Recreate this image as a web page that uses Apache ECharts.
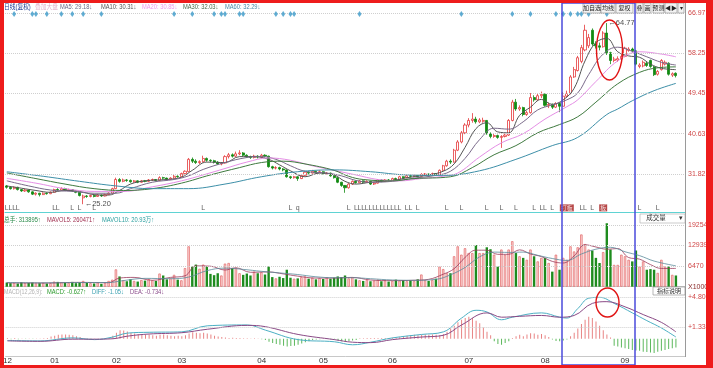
<!DOCTYPE html>
<html><head><meta charset="utf-8">
<script src="https://cdn.jsdelivr.net/npm/echarts/dist/echarts.min.js"></script>
<style>html,body{margin:0;padding:0;background:#fff}#c{width:713px;height:368px}</style>
</head><body><div id="c"></div>
<script>
const N_CATS = 187;
const monthLabels = ['12','01','02','03','04','05','06','07','08','09'];
const monthStartIdx = [0,13,30,48,70,87,106,127,148,170];
const priceTicks = [66.97, 58.25, 49.45, 40.63, 31.82];
const volTicks = [19254, 12939, 6470];
const macdTicks = [4.80, 1.33];

// [open, close, low, high]
const candles = [
[29.2,28.9,28.6,29.4],[28.9,28.6,28.4,29.0],[28.6,28.9,28.4,29.1],[28.9,28.4,28.2,29.0],[28.4,28.1,27.9,28.5],[28.1,28.3,27.9,28.5],[28.3,27.9,27.7,28.4],[27.9,27.4,27.2,28.0],[27.4,27.6,27.1,27.8],[27.6,27.3,26.9,27.7],
[27.3,27.6,27.2,27.8],[27.6,27.5,27.3,27.8],[27.5,27.8,27.4,28.0],[27.8,28.4,27.7,28.6],[28.4,28.3,28.1,28.7],[28.3,28.6,28.2,28.9],[28.6,28.3,28.2,28.8],[28.3,28.4,28.1,28.6],[28.4,28.1,27.9,28.5],[28.1,27.8,27.6,28.2],
[27.8,27.1,26.9,27.9],[26.6,27.0,25.2,27.3],[27.0,26.9,26.6,27.2],[26.9,27.1,26.7,27.3],[27.1,26.9,26.7,27.2],[26.9,27.2,26.8,27.4],[27.2,27.0,26.8,27.3],[27.0,27.3,26.9,27.5],[27.3,27.6,27.2,27.8],[27.6,28.6,27.5,28.8],
[28.6,30.6,28.5,31.0],[30.6,30.2,29.9,30.9],[30.2,30.5,30.0,30.8],[30.5,30.4,30.1,30.7],[30.4,30.1,29.9,30.6],[30.1,30.3,29.9,30.5],[30.3,30.0,29.8,30.4],[30.0,30.3,29.9,30.5],[30.3,30.2,30.0,30.5],[30.2,30.5,30.1,30.7],
[30.5,30.6,30.3,30.8],[30.6,30.4,30.2,30.7],[30.4,31.0,30.3,31.3],[31.0,30.9,30.6,31.2],[30.9,30.7,30.5,31.0],[30.7,30.9,30.6,31.1],[30.9,31.3,30.8,31.6],[31.3,31.2,31.0,31.5],[31.2,31.9,31.1,32.1],[31.9,32.4,31.7,32.6],
[32.3,35.0,32.2,35.3],[35.0,34.6,34.2,35.4],[34.6,34.3,34.0,35.0],[34.3,34.5,34.0,34.8],[34.5,35.2,34.3,35.8],[35.2,34.8,34.5,35.4],[34.8,34.7,34.4,35.0],[34.7,34.4,34.1,34.9],[34.4,34.0,33.8,34.6],[34.0,34.2,33.7,34.4],
[34.2,35.6,34.1,35.9],[35.6,36.0,35.2,36.4],[36.0,35.7,35.4,36.3],[35.7,36.2,35.5,36.7],[36.2,36.4,35.9,37.0],[36.4,35.9,35.6,36.6],[35.9,35.6,35.3,36.1],[35.6,35.4,35.1,35.8],[35.4,35.7,35.2,36.0],[35.7,35.5,35.2,35.9],
[35.5,35.9,35.3,36.2],[35.9,35.7,35.4,36.1],[35.7,33.4,33.2,35.8],[33.4,33.1,32.8,33.6],[33.1,33.2,32.8,33.5],[33.2,32.9,32.6,33.4],[32.9,32.7,32.4,33.1],[32.7,31.2,31.0,32.8],[31.2,31.0,30.7,31.4],[31.0,31.2,30.8,31.4],
[31.2,30.8,30.3,31.3],[30.8,31.5,30.7,31.7],[31.5,32.2,31.4,32.5],[32.2,32.0,31.7,32.4],[32.0,32.4,31.9,32.7],[32.4,32.1,31.9,32.5],[32.1,32.3,32.0,32.6],[32.3,31.9,31.7,32.4],[31.9,32.0,31.7,32.2],[32.0,31.4,31.2,32.1],
[31.4,31.0,30.8,31.5],[31.0,30.0,29.8,31.1],[30.0,29.3,29.0,30.1],[29.3,28.8,27.7,29.4],[28.8,29.6,28.6,29.8],[29.6,30.2,29.4,30.4],[30.2,29.9,29.7,30.4],[29.9,30.3,29.8,30.5],[30.3,30.0,29.8,30.4],[30.0,30.2,29.9,30.4],
[30.2,29.6,29.4,30.3],[29.6,29.8,29.4,30.0],[29.8,30.5,29.7,30.7],[30.5,30.2,30.0,30.6],[30.2,30.5,30.1,30.7],[30.5,30.4,30.2,30.7],[30.4,30.8,30.3,31.0],[30.8,30.6,30.4,31.0],[30.6,31.2,30.5,31.4],[31.2,31.0,30.8,31.3],
[31.0,31.4,30.9,31.6],[31.4,31.3,31.0,31.6],[31.3,31.5,31.1,31.7],[31.5,31.3,31.1,31.6],[31.3,31.7,31.2,32.0],[31.7,31.8,31.5,32.0],[31.8,31.6,31.4,31.9],[31.6,31.9,31.5,32.1],[31.9,31.7,31.5,32.0],[31.7,32.6,31.6,32.8],
[32.6,33.6,32.5,33.8],[33.6,34.6,33.4,34.9],[34.6,34.4,34.0,35.0],[34.4,37.0,34.3,37.3],[37.0,38.8,36.8,39.2],[38.8,40.8,38.5,41.2],[40.8,42.5,40.5,42.9],[42.5,43.5,42.0,44.0],[43.5,43.8,43.0,45.1],[43.8,43.2,42.8,44.3],
[43.2,43.6,42.9,44.0],[43.3,43.5,43.0,44.1],[43.5,40.6,40.4,43.6],[40.6,40.0,39.6,40.9],[40.0,40.2,39.7,40.6],[40.2,39.8,39.5,40.4],[39.8,40.0,37.5,40.3],[40.0,40.3,39.8,40.6],[40.3,43.5,40.1,43.8],[43.5,47.5,43.3,48.0],
[47.5,46.0,45.6,48.2],[46.0,46.3,45.6,46.8],[46.3,44.8,44.4,46.5],[44.8,45.2,44.5,45.6],[45.2,48.5,45.0,49.5],[48.5,48.0,47.6,49.0],[48.0,48.9,47.8,49.4],[48.9,49.2,48.4,49.8],[49.2,46.8,46.5,49.4],[46.8,47.0,46.2,47.4],
[47.0,46.4,46.0,47.2],[46.4,47.2,46.2,47.5],[47.2,46.6,45.3,47.4],[46.6,48.8,46.5,49.7],[48.8,49.4,48.4,50.0],[49.4,53.0,49.2,53.4],[53.0,54.6,52.8,55.2],[54.4,57.2,54.2,57.6],[56.4,59.4,56.0,60.0],[58.9,63.2,58.6,64.4],
[59.8,61.6,59.3,62.4],[63.2,60.2,59.8,63.6],[60.2,59.8,59.2,60.8],[59.8,59.5,58.8,60.5],[59.6,62.6,59.4,63.0],[62.6,58.3,57.8,64.77],[58.3,56.6,55.8,58.5],[56.6,56.9,56.2,57.4],[56.7,57.0,56.3,57.5],[56.9,57.5,56.6,57.9],
[57.5,59.3,57.3,59.6],[58.8,59.1,58.5,59.5],[59.1,58.7,58.3,59.4],[58.7,55.8,55.5,58.9],[55.3,55.6,54.9,56.0],[55.4,56.2,55.1,56.6],[56.0,55.5,55.2,56.3],[56.6,55.3,55.0,56.8],[55.2,53.5,53.2,55.4],[53.6,54.2,53.3,54.5],
[54.6,56.6,54.4,56.9],[55.8,56.2,55.5,56.6],[56.0,53.6,53.3,56.2],[53.4,53.7,53.0,54.0],[53.8,53.3,52.9,54.0]
];

const volumes = [
1300,1100,1200,1000,1400,1100,1200,1300,1000,1100,
1200,1000,1100,1600,1500,1400,1300,1200,1500,1100,
1300,1800,1200,1100,1000,1300,900,1200,1800,2200,
5400,3200,2000,1700,2300,1800,1600,2100,1900,2400,
2000,1800,4100,3500,2300,2600,3700,2200,2000,5800,
12600,6300,6900,5600,6900,6300,4000,3600,4200,3500,
7200,7400,5800,5900,4200,3700,4100,3500,4700,4200,
4500,3800,6300,3000,2600,3100,2700,5300,2800,2500,
2600,3000,3200,2500,2800,2300,2700,2400,2900,2500,
2800,3200,3000,3500,2600,2900,2300,2000,1800,2100,
1700,1900,2200,1700,2000,1600,1800,2200,1900,2100,
1700,2000,1800,2300,3800,2000,1800,2100,2500,6300,
5500,4200,4200,9500,12600,10000,12000,10500,10500,13000,
10500,10500,12300,11700,10000,6300,11600,10000,11600,14200,
10500,9500,9000,8400,11600,9500,7900,9000,9000,7400,
4700,10000,5300,9000,8400,12600,11000,12300,16300,13300,
11600,11300,9000,7400,10800,19800,11600,6800,6800,10000,
9500,8400,7900,11300,6300,7900,5300,5500,5300,4300,
8400,6300,6300,3700,3500
];

const macdHist = [
0.1,-0.05,0.08,-0.05,0.02,-0.03,0.03,-0.02,0.02,0.03,
0.05,0.08,0.25,0.35,0.45,0.5,0.5,0.45,0.4,0.3,
0.2,0.05,-0.05,-0.05,0.03,0.02,0.04,0.05,0.1,0.35,
0.7,1.0,0.95,0.85,0.7,0.6,0.55,0.5,0.45,0.5,
0.4,0.35,0.45,0.5,0.4,0.35,0.3,0.35,0.3,0.4,
0.6,0.75,0.7,0.65,0.7,0.6,0.5,0.35,0.25,0.2,
0.15,0.1,0.12,0.1,0.08,0.05,0.05,0.03,0.05,0.02,
-0.05,-0.15,-0.35,-0.5,-0.6,-0.7,-0.8,-0.9,-0.85,-0.8,
-0.7,-0.55,-0.4,-0.3,-0.15,-0.1,-0.05,0.03,-0.03,-0.05,
-0.1,-0.2,-0.3,-0.35,-0.25,-0.2,-0.15,0.05,0.05,0.08,
0.1,0.1,0.1,0.08,0.1,0.1,0.12,0.15,0.2,0.3,
0.35,0.4,0.45,0.4,0.45,0.5,0.45,0.5,0.45,0.4,
0.55,0.8,1.2,1.5,1.9,2.2,2.4,2.55,2.4,2.1,
1.8,1.3,0.8,0.4,-0.3,-0.6,-0.7,-0.5,-0.3,0.1,
0.3,0.45,0.3,0.5,0.65,0.6,0.45,0.55,0.4,0.2,
-0.1,-0.25,-0.3,-0.2,-0.1,0.3,0.7,1.2,1.7,2.2,
2.55,2.4,2.0,1.5,1.0,0.5,0.15,-0.8,-0.9,-1.0,
-1.1,-1.2,-1.3,-1.35,-1.4,-1.5,-1.55,-1.6,-1.65,-1.5,
-1.4,-1.3,-1.2,-1.1,-1.0
];

// moving-average lines: [candle index, value]
const ma5 = [[0,29.18],[4,28.7],[8,28.2],[12,27.8],[16,28.2],[20,28.0],[24,27.3],[28,27.2],[31,28.2],[34,29.6],[38,30.3],[44,30.6],[48,31.1],[51,32.6],[55,34.4],[60,34.3],[64,35.6],[68,35.6],[72,35.0],[75,33.8],[78,32.5],[82,31.2],[86,32.0],[90,31.6],[93,30.2],[96,29.6],[100,30.0],[106,30.4],[111,31.1],[116,31.6],[120,32.4],[123,34.0],[126,37.6],[129,41.7],[132,43.0],[135,41.0],[138,40.8],[141,44.6],[144,46.4],[147,48.1],[150,47.0],[153,48.0],[156,50.5],[159,56.5],[162,60.5],[165,61.4],[168,58.5],[171,57.6],[174,57.3],[177,55.8],[180,54.9],[184,54.6]];
const ma10 = [[0,30.31],[6,29.2],[12,28.3],[18,28.0],[24,27.6],[30,27.6],[34,28.6],[40,30.0],[46,30.6],[50,31.4],[54,32.8],[60,34.3],[66,35.4],[70,35.6],[74,35.0],[78,33.6],[82,32.4],[88,32.0],[92,31.4],[96,30.4],[100,30.0],[106,30.2],[112,30.9],[118,31.5],[122,32.4],[126,35.2],[130,39.3],[134,41.8],[138,41.6],[142,43.2],[146,45.8],[150,46.9],[154,48.0],[157,49.5],[160,53.5],[164,58.0],[168,59.5],[172,58.6],[176,57.4],[180,56.2],[184,55.6]];
const ma20 = [[0,30.85],[8,29.8],[16,28.6],[24,28.0],[32,28.0],[40,29.0],[48,30.3],[54,31.6],[60,33.0],[66,34.4],[72,35.3],[78,34.8],[84,33.6],[90,32.6],[96,31.6],[102,30.6],[108,30.3],[114,30.8],[120,31.3],[124,32.0],[130,35.5],[136,38.6],[142,40.6],[148,43.8],[154,46.5],[157,48.0],[162,52.0],[168,56.5],[174,58.5],[180,58.0],[184,57.4]];
const ma30 = [[0,32.03],[8,30.8],[16,29.6],[24,28.6],[32,28.2],[40,28.6],[48,29.8],[56,31.6],[64,33.2],[70,34.3],[76,34.6],[82,34.0],[90,32.6],[94,31.3],[98,30.6],[106,30.3],[112,30.8],[122,31.2],[128,33.2],[134,36.0],[140,38.0],[146,40.8],[152,42.6],[157,44.3],[162,47.5],[168,51.5],[174,54.0],[179,55.0],[184,55.2]];
const ma60 = [[0,32.29],[10,31.3],[20,30.2],[30,29.2],[40,28.6],[50,28.6],[60,29.6],[70,31.2],[80,32.3],[90,32.7],[100,32.3],[110,31.6],[120,31.5],[130,32.5],[140,35.0],[150,38.0],[157,39.8],[165,44.8],[168,46.0],[172,47.8],[178,50.0],[184,51.6]];
const mavol5 = [[0,1200],[10,1150],[20,1350],[28,1250],[31,2700],[35,2900],[40,2000],[45,2900],[49,3400],[52,6500],[56,6400],[60,5200],[63,5900],[67,4500],[72,4600],[76,4000],[80,3300],[85,2700],[90,2700],[95,2900],[100,2100],[106,1900],[112,2000],[116,2300],[120,3900],[123,5600],[126,9100],[129,11400],[132,11400],[135,10100],[138,10100],[141,11500],[144,10200],[147,9400],[150,7900],[153,7400],[156,9600],[159,13100],[162,12400],[165,11700],[168,11900],[171,9100],[174,8600],[177,6900],[180,5700],[184,5700]];
const mavol10 = [[0,1300],[10,1200],[20,1300],[28,1300],[32,1900],[38,2600],[45,2500],[50,3000],[55,5000],[60,5800],[65,5400],[70,4800],[75,4300],[80,3800],[85,3100],[90,2800],[95,2800],[100,2500],[106,2100],[112,2000],[118,2300],[122,3700],[126,6000],[130,9300],[134,10800],[138,10700],[142,10800],[146,9800],[150,8800],[154,8200],[158,10200],[162,11700],[166,12300],[170,10900],[174,9700],[178,8000],[184,6500]];
const diffLine = [[0,-0.2],[9,-0.25],[18,0.1],[24,-0.1],[29,0.2],[33,0.65],[39,0.75],[48,0.8],[55,1.5],[66,1.6],[71,1.0],[80,-0.1],[90,-0.35],[95,-0.7],[100,-0.4],[106,0.1],[114,0.5],[120,0.8],[125,2.4],[129,3.3],[132,3.1],[136,2.2],[139,2.5],[147,3.0],[152,2.5],[154,2.4],[157,3.5],[160,4.7],[163,4.8],[167,4.1],[172,3.0],[176,2.1],[180,1.25],[184,0.2]];
const deaLine = [[0,-0.25],[9,-0.3],[18,-0.05],[24,-0.05],[29,0.0],[33,0.3],[39,0.55],[48,0.7],[55,1.1],[66,1.55],[71,1.4],[80,0.5],[90,-0.1],[95,-0.4],[100,-0.45],[106,-0.1],[114,0.2],[120,0.4],[125,1.6],[132,3.0],[136,2.5],[141,2.6],[147,2.7],[152,2.5],[156,2.7],[161,4.1],[165,4.3],[170,3.7],[175,2.8],[180,1.9],[184,0.8]];

const diamondIdx = [2,7,8,11,15,18,21,26,46,51,57,59,60,64,65,74,76,78,79,97,125,139,144,151,153,155,157,158,160,165];
const flagMarks = [[0,'L'],[1,'L'],[2,'L'],[3,'L'],[13,'L'],[14,'L'],[18,'L'],[20,'L'],[24,'L'],[54,'L'],[78,'L'],[80,'q'],[94,'L'],[96,'L'],[97,'L'],[98,'L'],[99,'L'],[100,'L'],[101,'L'],[102,'L'],[103,'L'],[104,'L'],[105,'L'],[106,'L'],[107,'L'],[108,'L'],[110,'L'],[111,'L'],[113,'L'],[121,'L'],[125,'L'],[132,'L'],[136,'L'],[140,'L'],[145,'L'],[147,'L'],[148,'L'],[150,'L'],[158,'L'],[159,'L'],[161,'L'],[174,'L'],[179,'L']];
const boxMarks = [[154,'打板'],[164,'板']];
const extremes = [[21,25.20,'←25.20'],[165,64.77,'←64.77']];

const FONT = '"Liberation Sans","Noto Sans CJK SC",sans-serif';
const cats = new Array(N_CATS).fill('');
monthStartIdx.forEach((k,j)=>{cats[k]=monthLabels[j];});

function txt(x,y,s,color,size,align,z,sx){
  return {type:'text',x:x,y:y,z:z||50,scaleX:sx||1,silent:true,
          style:{text:s,fill:color,fontSize:size||7,fontFamily:FONT,verticalAlign:'middle',align:align||'left'}};
}
function hdr(x,y,s,color,size){ return txt(x,y,s,color,size||7,'left',50,0.82); }
function btn(x,w,label){
  return [{type:'rect',z:55,silent:true,shape:{x:x,y:3,width:w,height:10},style:{fill:'#f3f3f3',stroke:'#8a8a8a',lineWidth:0.6}},
          txt(x+w/2,8,label,'#222',6,'center',57)];
}

const graphic = [].concat(
  [{type:'line',z:40,silent:true,shape:{x1:685.5,y1:3,x2:685.5,y2:357},style:{stroke:'#9a9a9a',lineWidth:1}}],
  [hdr(4,7,'日线(复权)','#1e3c96'),hdr(35,7,'叠加大盘','#e3b2cc'),
   hdr(60,7,'MA5: 29.18↓','#6a6a88'),hdr(101,7,'MA10: 30.31↓','#555555'),hdr(142,7,'MA20: 30.85↓','#ee9aee'),
   hdr(183,7,'MA30: 32.03↓','#4a6a4a'),hdr(225,7,'MA60: 32.29↓','#4a8aa8')],
  [hdr(4,220,'总手: 313895↑','#2a8a4a'),hdr(47,220,'MAVOL5: 260471↑','#a03050'),hdr(102,220,'MAVOL10: 20.93万↑','#2ea0a0')],
  [hdr(4,292,'MACD(12,26,9):','#b4b4b4',6.5),hdr(47,292,'MACD: -0.627↑','#2a9a2a'),hdr(92,292,'DIFF: -1.05↓','#3aa0b0'),hdr(130,292,'DEA: -0.734↓','#8a4a8a')],
  btn(583,18,'加自选'),btn(601,14,'均线'),btn(616,17,'复权'),btn(636,7,'叠'),btn(644,7,'画'),btn(653,11,'预测'),btn(665,12,'◀▶'),btn(678,6,'▾'),
  [{type:'rect',z:55,silent:true,shape:{x:640,y:214,width:45,height:9},style:{fill:'#fff',stroke:'#aaaaaa',lineWidth:0.6}},
   txt(656,218.5,'成交量','#333',6.5,'center',57),txt(681,218.5,'▾','#333',6.5,'center',57),
   {type:'rect',z:55,silent:true,shape:{x:653,y:287,width:32,height:8},style:{fill:'#fff',stroke:'#888',lineWidth:0.6}},
   txt(669,291,'指标说明','#333',6,'center',57)],
  [{type:'rect',z:60,silent:true,shape:{x:562,y:3,width:73,height:362},style:{fill:'none',stroke:'#4b4bdc',lineWidth:1.5}},
   {type:'ellipse',z:60,silent:true,shape:{cx:609.5,cy:50,rx:13,ry:30},style:{fill:'none',stroke:'#e01414',lineWidth:1.4}},
   {type:'ellipse',z:60,silent:true,shape:{cx:607.5,cy:302.5,rx:11.5,ry:14.5},style:{fill:'none',stroke:'#e01414',lineWidth:1.4}}],
  [{type:'rect',z:100,silent:true,shape:{x:0,y:0,width:713,height:3},style:{fill:'#ee1c1c'}},
   {type:'rect',z:100,silent:true,shape:{x:0,y:0,width:4,height:368},style:{fill:'#ee1c1c'}},
   {type:'rect',z:100,silent:true,shape:{x:706,y:0,width:7,height:368},style:{fill:'#ee1c1c'}},
   {type:'rect',z:100,silent:true,shape:{x:0,y:365,width:713,height:3},style:{fill:'#ee1c1c'}}]
);

function tickLine(values, fmt, extra){
  const data = values.map(v=>({yAxis:v}));
  if (extra) data.push(extra);
  return {silent:true,symbol:'none',animation:false,precision:2,
    lineStyle:{color:'#cfcfcf',type:'dotted',width:1},
    label:{position:'end',distance:3,color:'#d04848',fontSize:7,fontFamily:FONT,formatter:p=>fmt(p.value)},
    data:data};
}
const transparent = {color:'rgba(0,0,0,0)'};

const volItems = volumes.map((v,i)=>{
  const up = candles[i][1] >= candles[i][0];
  return {value:v,itemStyle: up ? {color:'#fbd2d2',borderColor:'#e26a6a',borderWidth:0.7} : {color:'#1e8c1e'}};
});
const macdItems = macdHist.map(v=>({value:v,itemStyle:{color: v>=0 ? '#e88484' : '#5cb85c'}}));

function maLine(data,color,xi,yi,w){
  return {type:'line',xAxisIndex:xi,yAxisIndex:yi,data:data,smooth:0.4,symbol:'none',z:4,
          lineStyle:{color:color,width:w||1},emphasis:{disabled:true}};
}

const chart = echarts.init(document.getElementById('c'),null,{renderer:'canvas'});
chart.setOption({
  animation:false,
  backgroundColor:'#ffffff',
  grid:[{left:5,right:28,top:13,height:199},{left:5,right:28,top:214,height:72.7},{left:5,right:28,top:287,height:69}],
  xAxis:[0,1,2].map(k=>({type:'category',gridIndex:k,data:cats,boundaryGap:true,
    axisTick:{show:false},
    axisLabel:{show:k===2,interval:0,fontSize:8,color:'#333',margin:1,fontFamily:FONT},
    axisLine:{show:true,onZero:false,lineStyle:{color:k===0?'#5fd3d3':'#c8c8c8',width:1}},
    splitLine:{show:false}})),
  yAxis:[{gridIndex:0,min:23.5,max:66.97},{gridIndex:1,min:0,max:22690},{gridIndex:2,min:-2,max:6}].map(a=>Object.assign({type:'value',position:'right',show:false,scale:false},a)),
  graphic:graphic,
  series:[
    {type:'candlestick',xAxisIndex:0,yAxisIndex:0,data:candles,barWidth:2.6,z:3,
     itemStyle:{color:'#ffffff',color0:'#128a12',borderColor:'#e5393a',borderColor0:'#128a12',borderWidth:0.8},
     markLine:tickLine(priceTicks,v=>Number(v).toFixed(2))},
    maLine(ma5,'#555555',0,0),
    maLine(ma10,'#7a6a8a',0,0),
    maLine(ma20,'#e58ee5',0,0),
    maLine(ma30,'#3f7a3f',0,0),
    maLine(ma60,'#3d8fa8',0,0),
    {type:'scatter',xAxisIndex:0,yAxisIndex:0,clip:false,data:diamondIdx.map(i=>[i,66.75]),
     symbol:'diamond',symbolSize:[4,6],itemStyle:{color:'#3a98c8'},z:6},
    {type:'scatter',xAxisIndex:0,yAxisIndex:0,clip:false,data:flagMarks.map(m=>({value:[m[0],24.4],name:m[1]})),
     symbolSize:1,itemStyle:transparent,z:6,
     label:{show:true,position:'inside',formatter:'{b}',fontSize:7,color:'#333',fontFamily:FONT}},
    {type:'scatter',xAxisIndex:0,yAxisIndex:0,clip:false,data:boxMarks.map(m=>({value:[m[0],24.4],name:m[1]})),
     symbolSize:1,itemStyle:transparent,z:7,
     label:{show:true,position:'inside',formatter:'{b}',fontSize:6,color:'#fff',backgroundColor:'#a51a1a',padding:[1,1,0,1],fontFamily:FONT}},
    {type:'scatter',xAxisIndex:0,yAxisIndex:0,clip:false,data:extremes.map(m=>({value:[m[0],m[1]],name:m[2]})),
     symbolSize:1,itemStyle:transparent,z:7,
     label:{show:true,position:'right',distance:1,formatter:'{b}',fontSize:7.5,color:'#222',fontFamily:FONT}},
    {type:'bar',xAxisIndex:1,yAxisIndex:1,data:volItems,barWidth:2.4,z:2,
     markLine:tickLine(volTicks,v=>String(Math.round(v)),{yAxis:0,lineStyle:{color:'rgba(0,0,0,0)'},label:{formatter:'X10000',color:'#8a2a2a',show:true}})},
    maLine(mavol5,'#9a3a5a',1,1,0.8),
    maLine(mavol10,'#5a8a9a',1,1,0.8),
    {type:'bar',xAxisIndex:2,yAxisIndex:2,data:macdItems,barWidth:1,z:2,
     markLine:tickLine(macdTicks,v=>'+'+Number(v).toFixed(2))},
    maLine(diffLine,'#4cb0c4',2,2),
    maLine(deaLine,'#8a4a86',2,2)
  ]
});
</script></body></html>
